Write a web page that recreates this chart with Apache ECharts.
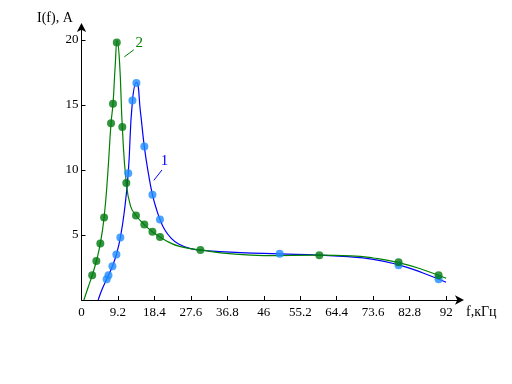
<!DOCTYPE html>
<html><head><meta charset="utf-8">
<script src="https://cdn.jsdelivr.net/npm/echarts@6/dist/echarts.min.js"></script>
<style>html,body{margin:0;padding:0;background:#fff}#c{width:512px;height:384px}</style>
</head><body><div id="c"></div>
<script>
// Measured points, series 1 (blue) and 2 (green): [f, I]
var pts1 = [[6.35,1.6],[6.8,1.9],[7.8,2.6],[8.8,3.5],[9.8,4.8],[11.8,9.75],[12.85,15.35],[13.85,16.7],[15.85,11.8],[17.9,8.1],[19.8,6.2],[50,3.55],[80,2.68],[90.1,1.6]];
var pts2 = [[2.7,1.9],[3.75,3.0],[4.75,4.35],[5.7,6.35],[7.45,13.6],[7.95,15.1],[8.9,19.8],[10.3,13.3],[11.3,9.0],[13.75,6.5],[15.85,5.8],[17.9,5.25],[19.8,4.85],[30,3.85],[60,3.45],[80,2.9],[90.1,1.9]];
// Curve traces
var curve1 = [[4.2,0],[5.3,0.9],[6.35,1.6],[7.8,2.6],[8.8,3.5],[9.8,4.8],[10.8,6.8],[11.8,9.8],[12.85,15.3],[13.9,16.75],[14.9,14.4],[15.85,11.8],[16.9,9.7],[17.9,8.1],[18.9,7.0],[19.8,6.2],[21,5.4],[22.5,4.8],[24.5,4.3],[27.5,3.95],[32,3.78],[40,3.65],[50,3.55],[60,3.45],[66,3.35],[73.6,3.13],[80,2.7],[86,2.1],[92,1.36]];
var curve2 = [[0.6,0],[1.7,1.0],[2.7,1.9],[3.75,3.0],[4.75,4.35],[5.7,6.35],[6.6,9.6],[7.45,13.6],[7.95,15.1],[8.5,18.0],[9.0,19.95],[9.6,18.3],[10.3,13.3],[11.3,9.0],[12.4,7.2],[13.75,6.5],[15.85,5.8],[17.9,5.25],[19.8,4.85],[22,4.45],[25,4.1],[30,3.85],[38,3.55],[46,3.42],[60,3.45],[68,3.4],[73.6,3.23],[80,2.88],[86,2.35],[92,1.67]];
var xTicks = [0,9.2,18.4,27.6,36.8,46,55.2,64.4,73.6,82.8,92];
var yTicks = [5,10,15,20];
var labels = [{name:'1', pos:[20.95,10.7], line:[[18.24,9.2],[20.3,10.0]], color:'#0000ff'},
              {name:'2', pos:[14.55,19.8], line:[[10.8,18.7],[13.2,19.25]], color:'#008000'}];

var font = '"Liberation Serif", "DejaVu Serif", serif';
var chart = echarts.init(document.getElementById('c'), null, {renderer:'canvas'});
function lbl(l){
  return {type:'line', silent:true, symbol:'none', lineStyle:{color:l.color,width:1}, data:l.line, z:5,
    markPoint:{symbol:'circle', symbolSize:1, itemStyle:{color:'rgba(0,0,0,0)'},
      label:{show:true, formatter:l.name, color:l.color, fontFamily:font, fontSize:15, position:'inside'},
      data:[{coord:l.pos}]}};
}
chart.setOption({
  animation:false,
  grid:{left:81.5, right:52, top:27, bottom:84},
  xAxis:{type:'value', min:0, max:95.5, interval:9.2,
    axisLine:{lineStyle:{color:'#000',width:1}, symbol:['none','arrow'], symbolSize:[7,9], symbolOffset:[0,4]},
    axisTick:{inside:true, length:4, lineStyle:{color:'#000'}, customValues:xTicks},
    axisLabel:{color:'#000', fontFamily:font, fontSize:13, margin:6, customValues:xTicks,
      formatter:function(v){return String(+(+v).toFixed(1));}},
    splitLine:{show:false}},
  yAxis:{type:'value', min:0, max:21, interval:5,
    axisLine:{show:true, lineStyle:{color:'#000',width:1}, symbol:['none','arrow'], symbolSize:[7,9], symbolOffset:[0,4]},
    axisTick:{show:true, inside:true, length:4, lineStyle:{color:'#000'}, customValues:yTicks},
    axisLabel:{color:'#000', fontFamily:font, fontSize:13, margin:3, customValues:yTicks},
    splitLine:{show:false}},
  graphic:[
    {type:'text', left:37, top:11, style:{text:'I(f), A', font:'14px '+font, fill:'#000'}},
    {type:'text', left:466, top:305, style:{text:'f,кГц', font:'14px '+font, fill:'#000'}}
  ],
  series:[
    {type:'line', data:curve1, smooth:0.5, symbol:'none', lineStyle:{color:'#0000ff',width:1.2}, z:2},
    {type:'line', data:curve2, smooth:0.5, symbol:'none', lineStyle:{color:'#008000',width:1.2}, z:3},
    {type:'scatter', data:pts1, symbol:'circle', symbolSize:8, itemStyle:{color:'#1e8cff'}, z:4},
    {type:'scatter', data:pts2, symbol:'circle', symbolSize:8, itemStyle:{color:'#007a10'}, z:4},
    lbl(labels[0]), lbl(labels[1])
  ]
});
</script></body></html>
